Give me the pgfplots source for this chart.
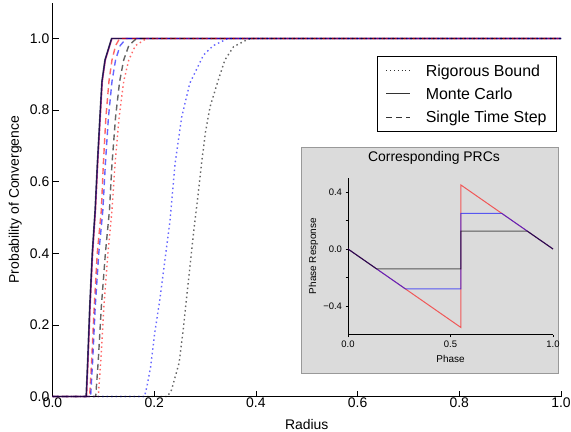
\documentclass[border=0pt]{standalone}
\usepackage{pgfplots}
\pgfplotsset{compat=1.18}
\usepackage{fontspec}
\setmainfont{Liberation Sans}
\begin{document}
\begin{tikzpicture}
\useasboundingbox (-52.5bp,-35.5bp) rectangle (518.5bp,396.5bp);
\begin{axis}[
  at={(0,0)}, anchor=south west,
  scale only axis, width=508.5bp, height=393.8bp,
  xmin=0, xmax=1, ymin=0, ymax=1.1,
  axis x line*=bottom, axis y line*=left,
  clip=false,
  xtick={0,0.2,0.4,0.6,0.8,1}, ytick={0,0.2,0.4,0.6,0.8,1},
  xticklabels={0.0,0.2,0.4,0.6,0.8,1.0}, yticklabels={0.0,0.2,0.4,0.6,0.8,1.0},
  tick align=inside, major tick length=6bp,
  tick style={black, line width=0.6bp},
  axis line style={black, line width=0.8bp},
  ticklabel style={font=\fontsize{14}{16}\selectfont},
  xticklabel style={inner ysep=1.5bp},
  yticklabel style={inner xsep=3bp},
  label style={font=\fontsize{14}{16}\selectfont},
  xlabel={Radius}, ylabel={Probability of Convergence},
  xlabel style={at={(axis description cs:0.5,-0.0833)}, anchor=base},
  ylabel style={at={(axis description cs:-0.0659,0.5)}, anchor=base},
  legend style={at={(rel axis cs:0.992,0.6717)}, anchor=south east, draw=black, line width=0.8bp, fill=white,
    font=\fontsize{16}{19}\selectfont, inner xsep=8bp, inner ysep=2.8bp,
    nodes={inner ysep=2.4bp, text height=15bp, text depth=3.5bp}},
  legend cell align=left,
  legend image code/.code={\draw[#1] (3bp,0bp) -- (27bp,0bp); \path (39.7bp,0bp);},
]
% Monte Carlo (solid)
\addplot[forget plot, red, opacity=0.6, line width=1.4bp] table {
x y
0 0
0.067 0
0.070 0.1
0.074 0.25
0.079 0.4
0.0846 0.52
0.089 0.65
0.094 0.78
0.098 0.88
0.104 0.94
0.117 1.0
1 1
};
\addplot[forget plot, blue, opacity=0.6, line width=1.4bp] table {
x y
0 0
0.0665 0
0.0695 0.1
0.0735 0.25
0.0785 0.4
0.0841 0.52
0.0885 0.65
0.0935 0.78
0.0975 0.88
0.1035 0.94
0.1165 1.0
1 1
};
\addplot[forget plot, black, opacity=0.6, line width=1.4bp] table {
x y
0 0
0.066 0
0.069 0.1
0.073 0.25
0.078 0.4
0.0836 0.52
0.088 0.65
0.093 0.78
0.097 0.88
0.103 0.94
0.116 1.0
1 1
};
% Single time step (dashed)
\addplot[forget plot, red, opacity=0.6, line width=1.4bp, dash pattern=on 6bp off 4bp] table {
x y
0 0
0.073 0
0.077 0.1
0.082 0.25
0.088 0.4
0.096 0.52
0.100 0.65
0.105 0.78
0.111 0.88
0.117 0.94
0.124 0.98
0.132 1.0
1 1
};
\addplot[forget plot, blue, opacity=0.6, line width=1.4bp, dash pattern=on 6bp off 4bp] table {
x y
0 0
0.075 0
0.079 0.1
0.084 0.25
0.091 0.4
0.099 0.52
0.104 0.65
0.110 0.78
0.117 0.88
0.124 0.94
0.133 0.98
0.145 1.0
1 1
};
\addplot[forget plot, black, opacity=0.6, line width=1.4bp, dash pattern=on 6bp off 4bp] table {
x y
0 0
0.085 0
0.090 0.1
0.096 0.25
0.104 0.4
0.112 0.52
0.117 0.65
0.124 0.78
0.132 0.88
0.140 0.94
0.150 0.98
0.165 1.0
1 1
};
% Rigorous bound (dotted)
\addplot[forget plot, red, opacity=0.6, line width=1.4bp, dash pattern=on 1.5bp off 3bp] table {
x y
0 0
0.090 0
0.095 0.1
0.101 0.25
0.109 0.4
0.117 0.52
0.123 0.65
0.131 0.78
0.140 0.88
0.150 0.94
0.163 0.98
0.185 1.0
1 1
};
\addplot[forget plot, blue, opacity=0.6, line width=1.4bp, dash pattern=on 1.5bp off 3bp] table {
x y
0 0
0.181 0
0.186 0.03
0.193 0.083
0.201 0.177
0.211 0.27
0.221 0.38
0.231 0.49
0.241 0.65
0.254 0.78
0.270 0.875
0.297 0.954
0.316 0.98
0.345 1.0
1 1
};
\addplot[forget plot, black, opacity=0.6, line width=1.4bp, dash pattern=on 1.5bp off 3bp] table {
x y
0 0
0.226 0
0.234 0.018
0.249 0.094
0.257 0.186
0.264 0.28
0.271 0.372
0.278 0.465
0.286 0.56
0.293 0.65
0.301 0.74
0.310 0.81
0.326 0.884
0.339 0.94
0.356 0.977
0.382 0.996
0.390 1.0
1 1
};
\addlegendimage{black!80, line width=1bp, dash pattern=on 1bp off 2.8bp}
\addlegendentry{Rigorous Bound}
\addlegendimage{black!80, line width=1.2bp}
\addlegendentry{Monte Carlo}
\addlegendimage{black!80, line width=1.2bp, dash pattern=on 6bp off 4bp}
\addlegendentry{Single Time Step}
\end{axis}
\filldraw[fill=black!14, draw=black!40, line width=0.8bp] (248.5bp,23.5bp) rectangle (505.5bp,249.5bp);
\begin{axis}[
  at={(295.5bp,62bp)}, anchor=south west,
  scale only axis, width=205bp, height=156.75bp,
  xmin=0, xmax=1, ymin=-0.6, ymax=0.5,
  axis x line*=bottom, axis y line*=left,
  clip=false,
  xtick={0,0.5,1}, xticklabels={0.0,0.5,1.0},
  ytick={-0.4,-0.2,0,0.2,0.4}, yticklabels={−0.4,,0.0,,0.4},
  tick align=outside, major tick length=2.5bp,
  tick style={black, line width=0.6bp},
  axis line style={black, line width=0.8bp},
  ticklabel style={font=\fontsize{9.5}{11}\selectfont},
  label style={font=\fontsize{10}{12}\selectfont},
  xlabel={Phase}, ylabel={Phase Response},
  xlabel style={at={(axis description cs:0.5,-0.177)}, anchor=base},
  ylabel style={at={(axis description cs:-0.156,0.5)}, anchor=base},
  title={Corresponding PRCs},
  title style={at={(axis description cs:0.4195,1.0667)}, anchor=base, font=\fontsize{14}{16}\selectfont},
]
\addplot[red, opacity=0.6, line width=1bp] table {
x y
0 0
0.55 -0.55
0.55 0.45
1 0
};
\addplot[blue, opacity=0.6, line width=1bp] table {
x y
0 0
0.28 -0.28
0.55 -0.28
0.55 0.25
0.75 0.25
1 0
};
\addplot[black, opacity=0.6, line width=1bp] table {
x y
0 0
0.14 -0.14
0.55 -0.14
0.55 0.126
0.874 0.126
1 0
};
\end{axis}
\end{tikzpicture}
\end{document}
